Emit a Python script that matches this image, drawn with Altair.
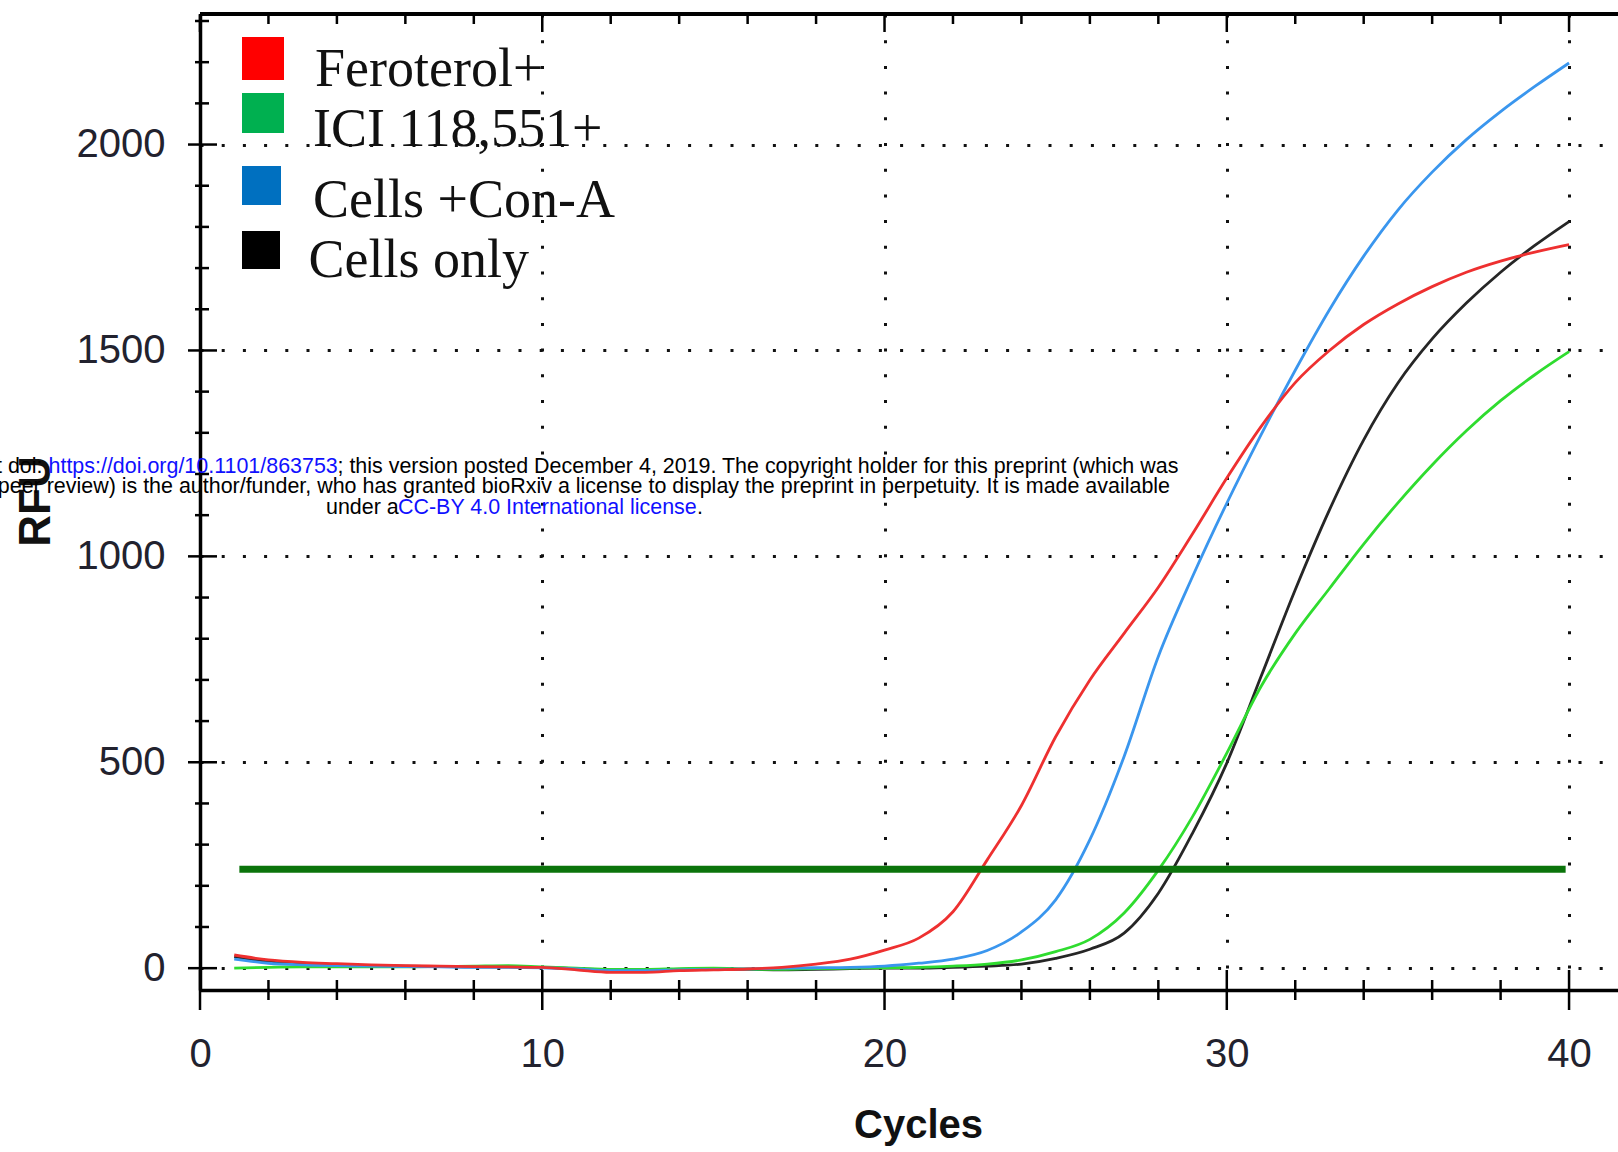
import altair as alt
import pandas as pd

# ---------------- data ----------------
CYCLES = list(range(1, 41))
SERIES_NAMES = ["Feroterol+", "ICI 118,551+", "Cells +Con-A", "Cells only"]
FEROTEROL = [32, 20, 14, 11, 8, 6, 5, 4, 3, 2, -4, -10, -10, -6, -4, -2, 2, 10, 22, 44,
             73, 137, 263, 395, 562, 700, 813, 925, 1055, 1190, 1315, 1422, 1500, 1563,
             1613, 1655, 1690, 1717, 1739, 1757]
ICI = [0, 2, 3, 3, 3, 3, 4, 5, 6, 3, 0, -3, -3, -1, 0, -2, -3, -1, 0, 1,
       2, 5, 10, 20, 40, 70, 134, 238, 368, 522, 684, 813, 922, 1030,
       1130, 1222, 1305, 1378, 1441, 1497]
CON_A = [22, 12, 8, 6, 5, 4, 3, 2, 2, 1, -2, -6, -6, -4, -3, -2, 0, 1, 2, 5,
         12, 22, 43, 88, 166, 312, 514, 757, 951, 1129, 1295, 1452, 1599, 1729,
         1841, 1933, 2012, 2080, 2141, 2198]
CELLS_ONLY = [28, 15, 10, 8, 6, 5, 4, 3, 3, 2, -1, -4, -5, -3, -2, -3, -4, -3, -1, 0,
              0, 2, 5, 10, 24, 46, 85, 182, 328, 498, 708, 919, 1113, 1283,
              1421, 1528, 1615, 1690, 1755, 1813]
SERIES_VALUES = [FEROTEROL, ICI, CON_A, CELLS_ONLY]
THRESHOLD = 240
THRESHOLD_CYCLES = [1.15, 39.9]

X_LABEL_VALUES = [0, 10, 20, 30, 40]
Y_LABEL_VALUES = [0, 500, 1000, 1500, 2000]
X_MAJOR_TICKS = [0, 10, 20, 30, 40]
X_MINOR_TICKS = [c for c in range(2, 41, 2) if c % 10 != 0]
Y_MAJOR_TICKS = [0, 500, 1000, 1500, 2000]
Y_MINOR_TICKS = [v for v in range(100, 2301, 100) if v % 500 != 0]
X_DOMAIN = [0, 41.43]
Y_DOMAIN = [-53, 2317]

WATERMARK_1A = "bioRxiv preprint doi:"
WATERMARK_1B = "https://doi.org/10.1101/863753"
WATERMARK_1C = "; this version posted December 4, 2019. The copyright holder for this preprint (which was"
WATERMARK_2 = ("not certified by peer review) is the author/funder, who has granted bioRxiv a license "
               "to display the preprint in perpetuity. It is made available")
WATERMARK_3A = "under a"
WATERMARK_3B = "CC-BY 4.0 International license"
WATERMARK_3C = "."

# ---------------- styles / layout ----------------
LINE_COLORS = ["#ee3030", "#2fdc2f", "#3a96ee", "#262626"]
SWATCH_COLORS = ["#ff0000", "#00b050", "#0070c0", "#000000"]
DRAW_ORDER = [3, 1, 2, 0]
W, H = 1418, 976
SANS = "Liberation Sans, Arial, sans-serif"
SERIF = "Liberation Serif, Times New Roman, serif"

LEGEND_BOX = [(42, 23, 84, 66), (42, 79, 84, 119), (42, 152, 81, 191), (42, 217, 80, 255)]
LEGEND_TEXT = [(115, 71.6), (113, 131.5), (113, 202.7), (108.5, 262.6)]

X_SCALE = alt.Scale(domain=X_DOMAIN, nice=False, zero=False)
Y_SCALE = alt.Scale(domain=Y_DOMAIN, nice=False, zero=False)

X_AXIS = alt.Axis(values=X_LABEL_VALUES, grid=True, gridDash=[3, 22.7], gridWidth=3,
                  gridColor="#111111", gridOpacity=1, ticks=False, domainColor="#000000",
                  domainWidth=3.5, labelFont=SANS, labelFontSize=40, labelColor="#22222e",
                  labelPadding=44, labelFlush=False, labelOverlap=False, format="d",
                  title="Cycles", titleFont=SANS, titleFontSize=40, titleFontWeight="bold",
                  titleColor="#111111", titleX=718, titleY=135, titleBaseline="middle",
                  titleAlign="center")
Y_AXIS = alt.Axis(values=Y_LABEL_VALUES, grid=True, gridDash=[3, 18.2], gridWidth=3,
                  gridColor="#111111", gridOpacity=1, ticks=False, domainColor="#000000",
                  domainWidth=3.5, labelFont=SANS, labelFontSize=40, labelColor="#22222e",
                  labelPadding=35, labelFlush=False, labelOverlap=False, format="d",
                  labelBaseline="middle",
                  title="RFU", titleFont=SANS, titleFontSize=44, titleFontWeight="bold",
                  titleColor="#111111", titleX=-164, titleY=487, titleAngle=270,
                  titleBaseline="middle", titleAlign="center")


def X(field):
    return alt.X(field, scale=X_SCALE, axis=X_AXIS)


def Y(field):
    return alt.Y(field, scale=Y_SCALE, axis=Y_AXIS)


layers = []
for idx in DRAW_ORDER:
    df = pd.DataFrame({"cycle": CYCLES, "rfu": SERIES_VALUES[idx]})
    layers.append(
        alt.Chart(df).mark_line(color=LINE_COLORS[idx], strokeWidth=2.8, interpolate="monotone")
        .encode(x=X("cycle:Q"), y=Y("rfu:Q"))
    )

thr_df = pd.DataFrame({"c1": [THRESHOLD_CYCLES[0]], "c2": [THRESHOLD_CYCLES[1]], "v": [THRESHOLD]})
threshold = alt.Chart(thr_df).mark_rule(color="#0b740b", strokeWidth=7).encode(
    x=X("c1:Q"), x2="c2:Q", y=Y("v:Q"))


def xticks(values, y1, y2):
    return alt.Chart(pd.DataFrame({"c": values})).mark_rule(
        color="#000000", strokeWidth=2.5).encode(
        x=X("c:Q"), y=alt.value(y1), y2=alt.value(y2))


def yticks(values, x1, x2):
    return alt.Chart(pd.DataFrame({"v": values})).mark_rule(color="#000000", strokeWidth=2.5).encode(
        y=Y("v:Q"), x=alt.value(x1), x2=alt.value(x2))


tick_layers = [
    xticks(X_MINOR_TICKS, H - 10, H + 10),
    xticks(X_MAJOR_TICKS, H - 20, H + 20),
    xticks(X_MINOR_TICKS, 0, 10),
    xticks(X_MAJOR_TICKS, 0, 18),
    yticks(Y_MINOR_TICKS, -5, 9),
    yticks(Y_MAJOR_TICKS, -12, 17),
]

top_border = alt.Chart(pd.DataFrame({"a": [0]})).mark_rule(color="#000000", strokeWidth=4).encode(
    x=alt.value(0), x2=alt.value(W), y=alt.value(0))

leg_df = pd.DataFrame({
    "name": SERIES_NAMES,
    "color": SWATCH_COLORS,
    "x0": [b[0] for b in LEGEND_BOX], "y0": [b[1] for b in LEGEND_BOX],
    "x1": [b[2] for b in LEGEND_BOX], "y1": [b[3] for b in LEGEND_BOX],
    "tx": [t[0] for t in LEGEND_TEXT], "ty": [t[1] for t in LEGEND_TEXT],
})
leg_boxes = alt.Chart(leg_df).mark_rect().encode(
    x=alt.X("x0:Q", scale=None, axis=None), x2="x1:Q",
    y=alt.Y("y0:Q", scale=None, axis=None), y2="y1:Q",
    color=alt.Color("color:N", scale=None))
leg_text = alt.Chart(leg_df).mark_text(align="left", baseline="alphabetic", font=SERIF,
                                       fontSize=54, color="#111111").encode(
    x=alt.X("tx:Q", scale=None, axis=None), y=alt.Y("ty:Q", scale=None, axis=None), text="name:N")

WM_SIZE = 21.45
WM_LEFT = pd.DataFrame({
    "t": [WATERMARK_1B, WATERMARK_1C, WATERMARK_3A, WATERMARK_3B, WATERMARK_3C],
    "x": [-151.5, 137.5, 126, 198, 497],
    "y": [452.5, 452.5, 493.5, 493.5, 493.5],
    "col": ["#1010ff", "#000000", "#000000", "#1010ff", "#000000"],
})
WM_RIGHT = pd.DataFrame({
    "t": [WATERMARK_1A, WATERMARK_2],
    "x": [-157.5, 970],
    "y": [452.5, 473],
    "col": ["#000000", "#000000"],
})
wm_left = alt.Chart(WM_LEFT).mark_text(align="left", baseline="middle", font=SANS, fontSize=WM_SIZE).encode(
    x=alt.X("x:Q", scale=None, axis=None), y=alt.Y("y:Q", scale=None, axis=None),
    text="t:N", color=alt.Color("col:N", scale=None))
wm_right = alt.Chart(WM_RIGHT).mark_text(align="right", baseline="middle", font=SANS, fontSize=WM_SIZE).encode(
    x=alt.X("x:Q", scale=None, axis=None), y=alt.Y("y:Q", scale=None, axis=None),
    text="t:N", color=alt.Color("col:N", scale=None))

chart = alt.layer(
    *layers, threshold, *tick_layers, top_border, leg_boxes, leg_text, wm_left, wm_right
).properties(
    width=W, height=H,
    padding={"left": 200, "top": 14, "right": 0, "bottom": 162},
    autosize=alt.AutoSizeParams(type="none"),
    background="white",
).configure_view(stroke=None)

chart.save("out.html", embed_options={"renderer": "svg", "actions": False})
